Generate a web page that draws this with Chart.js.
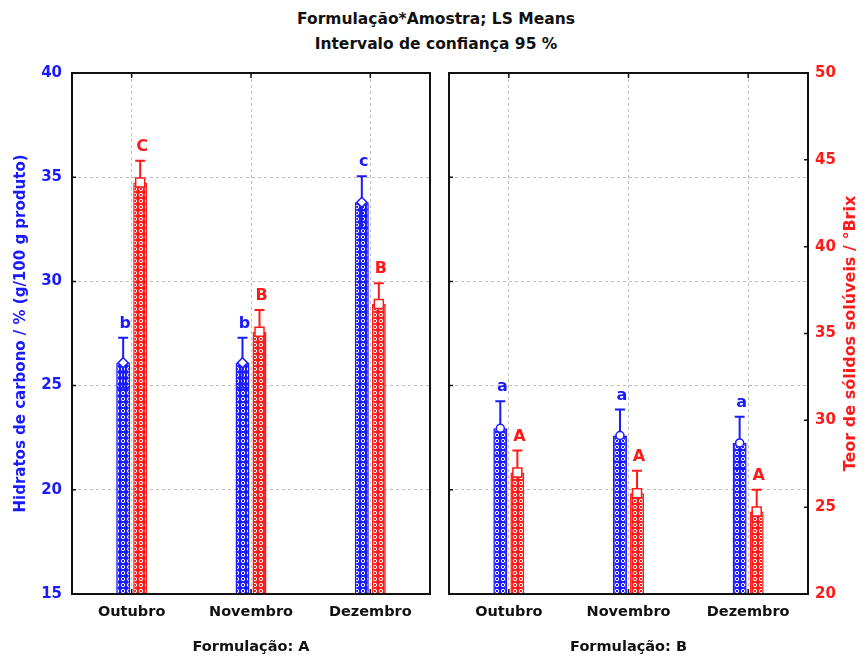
<!DOCTYPE html>
<html>
<head>
<meta charset="utf-8">
<script src="https://cdn.jsdelivr.net/npm/chart.js@4"></script>
<style>
  body { margin: 0; background: #fff; }
  #wrap { position: relative; width: 868px; height: 660px; }
  #title { position: absolute; left: 0; top: 7px; width: 872px; text-align: center;
           font: bold 15.5px 'DejaVu Sans', sans-serif; line-height: 25px; color: #111; }
  canvas { position: absolute; top: 0; }
</style>
</head>
<body>
<div id="wrap">
  <div id="title">Formulação*Amostra; LS Means<br>Intervalo de confiança 95 %</div>
  <canvas id="panelA" width="440" height="660" style="left:0;width:440px;height:660px"></canvas>
  <canvas id="panelB" width="428" height="660" style="left:440px;width:428px;height:660px"></canvas>
</div>
<script>
// dados
const meses = ['Outubro', 'Novembro', 'Dezembro'];

const carbA = [26.1, 26.1, 33.8];
const carbErrA = [1.2, 1.2, 1.25];
const brixA = [43.7, 35.1, 36.7];
const brixErrA = [1.25, 1.25, 1.2];
const letrasCarbA = ['b', 'b', 'c'];
const letrasBrixA = ['C', 'B', 'B'];

const carbB = [22.95, 22.6, 22.25];
const carbErrB = [1.3, 1.25, 1.25];
const brixB = [27.0, 25.8, 24.75];
const brixErrB = [1.27, 1.3, 1.25];
const letrasCarbB = ['a', 'a', 'a'];
const letrasBrixB = ['A', 'A', 'A'];

const yTicks = [15, 20, 25, 30, 35, 40];
const y1Ticks = [20, 25, 30, 35, 40, 45, 50];

const AZUL = '#1a1aff';
const VERMELHO = '#ff1a1a';
const FONTE = "'DejaVu Sans', sans-serif";

Chart.defaults.font.family = FONTE;

function padrao(cor) {
  const c = document.createElement('canvas');
  c.width = 6; c.height = 6;
  const g = c.getContext('2d');
  g.fillStyle = cor;
  g.fillRect(0, 0, 6, 6);
  g.strokeStyle = '#fff';
  g.lineWidth = 1;
  g.beginPath();
  g.arc(3, 3, 1.7, 0, Math.PI * 2);
  g.stroke();
  return g.createPattern(c, 'repeat');
}

// barras de erro, marcadores, letras e moldura
const marcas = {
  id: 'marcas',
  afterDatasetsDraw(chart, args, opts) {
    const ctx = chart.ctx;
    chart.data.datasets.forEach((ds, di) => {
      const meta = chart.getDatasetMeta(di);
      const scale = chart.scales[meta.yAxisID];
      const cor = ds.borderColor;
      meta.data.forEach((bar, i) => {
        const v = ds.data[i], e = opts.erros[di][i];
        const yTop = scale.getPixelForValue(v + e);
        const yLow = scale.getPixelForValue(v - e);
        const x = bar.x;
        ctx.save();
        ctx.strokeStyle = cor;
        ctx.lineWidth = 2;
        ctx.beginPath();
        ctx.moveTo(x, bar.y);
        ctx.lineTo(x, yTop);
        ctx.moveTo(x - 5, yTop);
        ctx.lineTo(x + 5, yTop);
        if (di === 0) {
          ctx.moveTo(x, bar.y);
          ctx.lineTo(x, yLow);
          ctx.moveTo(x - 6, yLow);
          ctx.lineTo(x + 6, yLow);
        }
        ctx.stroke();
        // marcador da média
        ctx.fillStyle = '#fff';
        ctx.lineWidth = 1.5;
        ctx.beginPath();
        if (opts.marcadores[di] === 'square') {
          ctx.rect(x - 4.5, bar.y - 4.5, 9, 9);
        } else if (opts.marcadores[di] === 'diamond') {
          ctx.moveTo(x, bar.y - 5); ctx.lineTo(x + 5, bar.y);
          ctx.lineTo(x, bar.y + 5); ctx.lineTo(x - 5, bar.y);
          ctx.closePath();
        } else {
          ctx.arc(x, bar.y, 4, 0, Math.PI * 2);
        }
        ctx.fill();
        ctx.stroke();
        // letra
        ctx.fillStyle = cor;
        ctx.font = 'bold 16px ' + FONTE;
        ctx.textAlign = 'center';
        ctx.textBaseline = 'bottom';
        ctx.fillText(opts.letras[di][i], x + 2, yTop - 6);
        ctx.restore();
      });
    });
  },
  afterDraw(chart, args, opts) {
    const ctx = chart.ctx;
    const {left, right, top, bottom} = chart.chartArea;
    ctx.save();
    ctx.strokeStyle = '#111';
    ctx.lineWidth = 2;
    ctx.strokeRect(left, top, right - left, bottom - top);
    ctx.lineWidth = 1.5;
    ctx.beginPath();
    const xs = chart.scales.x;
    xs.ticks.forEach((t, i) => {
      const px = xs.getPixelForTick(i);
      ctx.moveTo(px, top); ctx.lineTo(px, top + 5);
      ctx.moveTo(px, bottom); ctx.lineTo(px, bottom - 5);
    });
    const ys = chart.scales.y;
    yTicks.forEach(v => {
      const py = ys.getPixelForValue(v);
      ctx.moveTo(left, py); ctx.lineTo(left + 4, py);
    });
    if (opts.direita) {
      const y1 = chart.scales.y1;
      y1Ticks.forEach(v => {
        const py = y1.getPixelForValue(v);
        ctx.moveTo(right, py); ctx.lineTo(right - 4, py);
      });
    }
    ctx.stroke();
    if (opts.direita) {
      ctx.fillStyle = VERMELHO;
      ctx.font = 'bold 16px ' + FONTE;
      ctx.textAlign = 'center';
      ctx.textBaseline = 'middle';
      ctx.translate(chart.width - 17, (top + bottom) / 2);
      ctx.rotate(-Math.PI / 2);
      ctx.fillText('Teor de sólidos solúveis / °Brix', 0, 0);
    }
    ctx.restore();
  }
};

function painel(id, carb, carbErr, brix, brixErr, letrasC, letrasB, titulo, lado) {
  const esquerda = lado === 'esquerda';
  // grade tracejada (no v4 o tracejado vem de border.dash)
  const grade = {color: '#bdbdbd', lineWidth: 1, drawTicks: false};
  const borda = {display: false, dash: [3, 3]};
  return new Chart(document.getElementById(id), {
    type: 'bar',
    data: {
      labels: meses,
      datasets: [{
        label: 'Hidratos de carbono',
        data: carb,
        yAxisID: 'y',
        backgroundColor: padrao(AZUL),
        borderColor: AZUL,
        borderWidth: 1.5
      }, {
        label: 'Sólidos solúveis',
        data: brix,
        yAxisID: 'y1',
        backgroundColor: padrao(VERMELHO),
        borderColor: VERMELHO,
        borderWidth: 1.5
      }]
    },
    options: {
      responsive: false,
      animation: false,
      categoryPercentage: 0.285,
      barPercentage: 0.82,
      layout: {padding: {left: esquerda ? 0 : 9, right: esquerda ? 10 : 0, top: 73, bottom: 0}},
      plugins: {
        legend: {display: false},
        tooltip: {enabled: false},
        marcas: {
          erros: [carbErr, brixErr],
          letras: [letrasC, letrasB],
          marcadores: [esquerda ? 'diamond' : 'circle', 'square'],
          direita: !esquerda
        }
      },
      scales: {
        x: {
          grid: Object.assign({offset: false}, grade),
          border: borda,
          ticks: {color: '#111', font: {size: 14.5, weight: 'bold'}, padding: 10},
          title: {display: true, text: titulo, color: '#111', font: {size: 14.5, weight: 'bold'}, padding: {bottom: 4}},
          afterFit(s) { s.height = 66; }
        },
        y: {
          min: 15, max: 40,
          grid: grade,
          border: borda,
          ticks: {display: esquerda, stepSize: 5, color: AZUL, font: {size: 15, weight: 'bold'}, padding: 10},
          title: {display: esquerda, text: 'Hidratos de carbono / % (g/100 g produto)', color: AZUL,
                  font: {size: 15, weight: 'bold'}, padding: {top: 12}},
          afterFit(s) { s.width = esquerda ? 72 : 0; }
        },
        y1: {
          display: !esquerda,
          position: 'right',
          min: 20, max: 50,
          grid: {drawOnChartArea: false, drawTicks: false},
          border: {display: false},
          ticks: {stepSize: 5, color: VERMELHO, font: {size: 15, weight: 'bold'}, padding: 7},
          afterFit(s) { s.width = esquerda ? 0 : 60; }
        }
      }
    },
    plugins: [marcas]
  });
}

const chartA = painel('panelA', carbA, carbErrA, brixA, brixErrA, letrasCarbA, letrasBrixA, 'Formulação: A', 'esquerda');
const chartB = painel('panelB', carbB, carbErrB, brixB, brixErrB, letrasCarbB, letrasBrixB, 'Formulação: B', 'direita');
</script>
</body>
</html>
